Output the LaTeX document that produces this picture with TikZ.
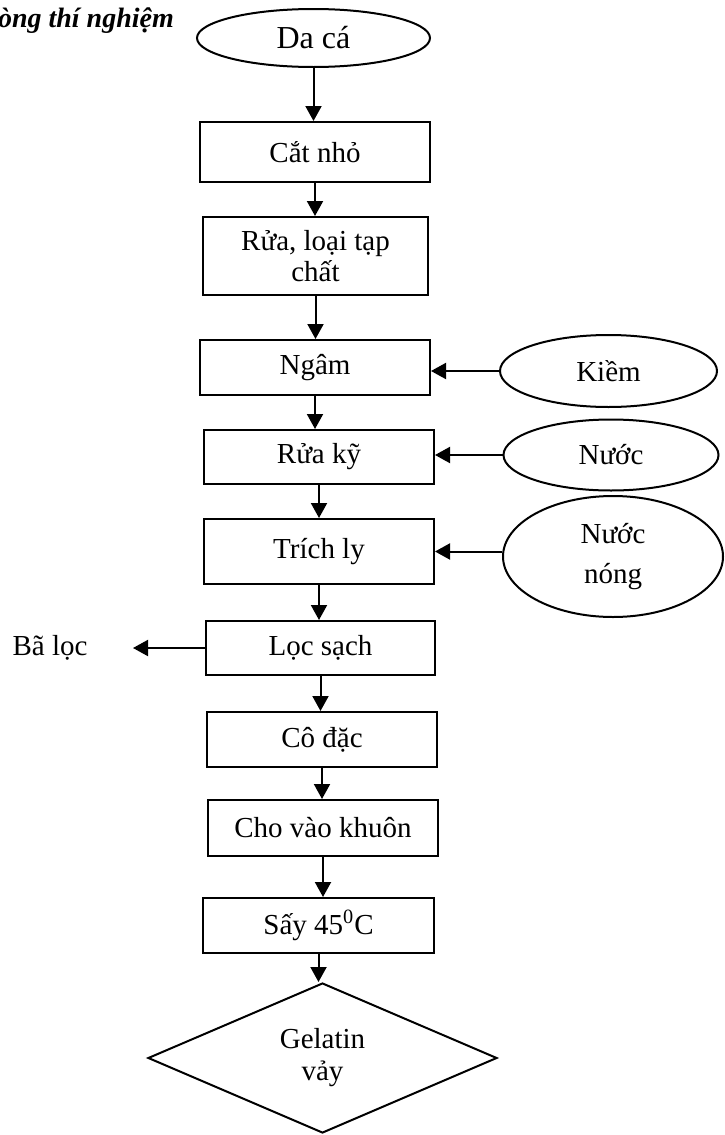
\documentclass[tikz,border=0pt]{standalone}
\usepackage{fontspec}
\setmainfont{Liberation Serif}
\usetikzlibrary{shapes.geometric}
\usetikzlibrary{arrows.meta}

\begin{document}
\begin{tikzpicture}[x=0.5pt,y=-0.5pt,line width=1pt,
  box/.style={draw,rectangle,inner sep=0pt,align=center,font=\fontsize{14.5}{15.5}\selectfont},
  ell/.style={draw,ellipse,inner sep=0pt,align=center,font=\fontsize{14.5}{20}\selectfont},
  flow/.style={-{Triangle[length=7.5pt,width=8pt]}}]
\useasboundingbox (0,0) rectangle (724,1135);
\node[anchor=base west,inner sep=0pt,font=\fontsize{14}{16}\selectfont\bfseries\itshape] (title) at (-3,27) {òng thí nghiệm};
% main line
\node[ell,minimum width=116.5pt,minimum height=29pt,font=\fontsize{16}{18}\selectfont] (daca) at (313.5,38) {Da cá};
\node[box,minimum width=115pt,minimum height=30pt] (catnho) at (315,152) {Cắt nhỏ};
\node[box,minimum width=112.5pt,minimum height=39pt] (rua) at (315.5,256) {Rửa, loại tạp\\chất};
\node[box,minimum width=115pt,minimum height=27.5pt] (ngam) at (315,367.5) {Ngâm};
\node[box,minimum width=115pt,minimum height=27pt] (ruaky) at (319,457) {Rửa kỹ};
\node[box,minimum width=115pt,minimum height=32.5pt] (trichly) at (319,551.5) {Trích ly};
\node[box,minimum width=114.5pt,minimum height=27pt] (loc) at (320.5,648) {Lọc sạch};
\node[box,minimum width=115pt,minimum height=27.5pt] (coda) at (322,739.5) {Cô đặc};
\node[box,minimum width=115pt,minimum height=28pt] (khuon) at (323,828) {Cho vào khuôn};
\node[box,minimum width=115.5pt,minimum height=27.5pt] (say) at (318.5,925.5) {Sấy 45\textsuperscript{0}C};
\node[draw,diamond,inner sep=0pt,align=center,minimum width=174.5pt,minimum height=75pt,
  font=\fontsize{14.5}{16}\selectfont] (gel) at (322.5,1058) {Gelatin\\vảy};
% inputs on the right
\node[ell,minimum width=108.5pt,minimum height=36pt] (kiem) at (608.5,371) {Kiềm};
\node[ell,minimum width=107.5pt,minimum height=35.5pt] (nuoc) at (611,455) {Nước};
\node[ell,minimum width=110pt,minimum height=60.5pt] (nuocnong) at (613,556.5) {Nước\\nóng};
% waste on the left
\node[font=\fontsize{14.5}{16}\selectfont] (baloc) at (50,648) {Bã lọc};
\coordinate (bacut) at (133,648);

\foreach \a/\b in {daca/catnho,catnho/rua,rua/ngam,ngam/ruaky,ruaky/trichly,
                   trichly/loc,loc/coda,coda/khuon,khuon/say,say/gel}
  \draw[flow] (\a.south) -- (\a.south |- \b.north);
\draw[flow] (kiem.west) -- (kiem.west -| ngam.east);
\draw[flow] (nuoc.west) -- (nuoc.west -| ruaky.east);
\draw[flow] (trichly.east -| nuocnong.west) -- (trichly.east);
\draw[flow] (loc.west) -- (bacut);
\end{tikzpicture}
\end{document}
